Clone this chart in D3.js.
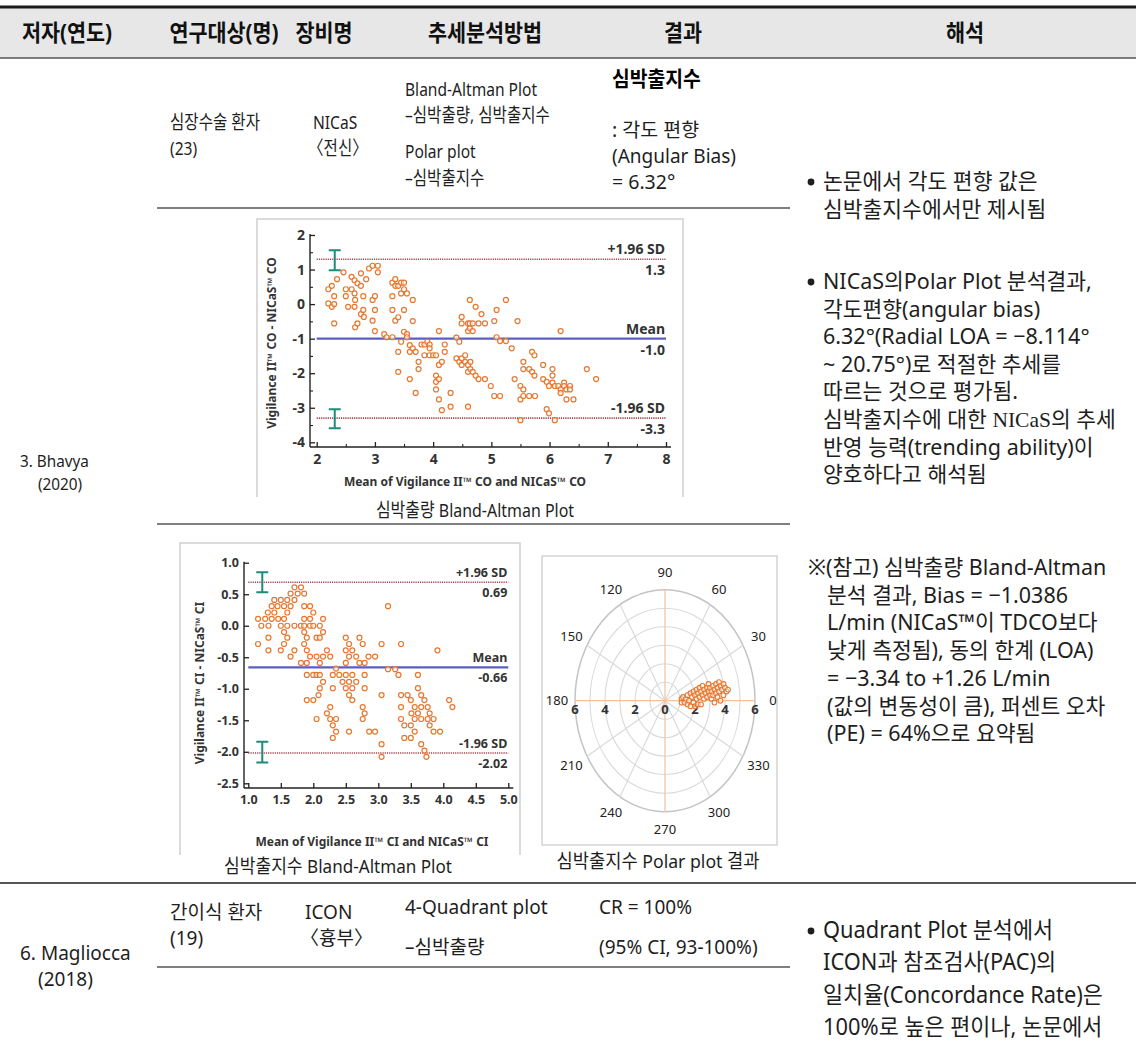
<!DOCTYPE html>
<html>
<head>
<meta charset="utf-8">
<script src="https://cdn.jsdelivr.net/npm/d3@7"></script>
<style>
  body { margin: 0; background: #fff; }
  svg text { font-family: "Noto Sans", "Noto Sans CJK KR", sans-serif; }
</style>
</head>
<body>
<svg id="page" width="1136" height="1041"></svg>
<script>
// ---- table text ----
var headers = ['저자(연도)', '연구대상(명)', '장비명', '추세분석방법', '결과', '해석']
var headerX = [67, 224, 324, 485, 683, 965]

var notesAngle = ['논문에서 각도 편향 값은', '심박출지수에서만 제시됨']
var notesPolar = ['NICaS의Polar Plot 분석결과,', '각도편향(angular bias)', '6.32°(Radial LOA = −8.114°',
  '~ 20.75°)로 적절한 추세를', '따르는 것으로 평가됨.', '심박출지수에 대한 NICaS의 추세',
  '반영 능력(trending ability)이', '양호하다고 해석됨']
var notesRef = ['※(참고) 심박출량 Bland-Altman', '분석 결과, Bias = −1.0386', 'L/min (NICaS™이 TDCO보다',
  '낮게 측정됨), 동의 한계 (LOA)', '= −3.34 to +1.26 L/min', '(값의 변동성이 큼), 퍼센트 오차',
  '(PE) = 64%으로 요약됨']
var notesQuad = ['Quadrant Plot 분석에서', 'ICON과 참조검사(PAC)의', '일치율(Concordance Rate)은', '100%로 높은 편이나, 논문에서']

// ---- cardiac output Bland-Altman (mean, difference) ----
var coPoints = [
  [2.2, 0.43], [2.26, 0.53], [2.2, 0.02], [2.26, -0.08], [2.3, 0], [2.3, 0.23], [2.3, -0.56], [2.35, 0.72],
  [2.46, 0.92], [2.5, 0.43], [2.5, 0.23], [2.54, -0.08], [2.6, 0.79], [2.6, 0.43], [2.65, -0.08], [2.65, 0.69],
  [2.65, 0.31], [2.66, 0.12], [2.66, -0.67], [2.7, -0.56], [2.7, 0.6], [2.76, 0.53], [2.76, 0.89], [2.76, -0.29],
  [2.8, 0.23], [2.8, -0.17], [2.81, -0.37], [2.85, 0.72], [2.9, 1.03], [2.96, 1.11], [2.96, 0.12], [2.96, -0.48],
  [3.0, 0.23], [3.0, -0.17], [3.0, -0.78], [3.05, 1.11], [3.05, 0.92], [3.16, -0.87], [3.2, -0.96], [3.3, -0.96],
  [3.3, 0.62], [3.35, 0.72], [3.35, 0.53], [3.3, 0.23], [3.3, -0.17], [3.35, -0.48], [3.4, 0.53], [3.4, -0.38],
  [3.4, -1.38], [3.4, -1.96], [3.45, 0.62], [3.45, 0.31], [3.45, -1.09], [3.5, 0.62], [3.5, 0.43], [3.5, -0.17],
  [3.5, -0.8], [3.55, 0.31], [3.55, -0.87], [3.55, -0.96], [3.6, -1.19], [3.6, -1.38], [3.6, -2.17], [3.65, 0.12],
  [3.65, -0.49], [3.65, -1.28], [3.7, -1.38], [3.7, -2.57], [3.75, -1.67], [3.75, -1.88], [3.8, -1.17], [3.85, -1.17],
  [3.85, -1.48], [3.9, -1.09], [3.94, -1.17], [3.94, -1.28], [3.94, -1.48], [4.0, -1.48], [4.05, -1.48], [4.05, -2.07],
  [4.05, -2.25], [4.05, -2.47], [4.1, -2.17], [4.1, -1.76], [4.1, -2.76], [4.1, -0.78], [4.15, -1.67], [4.15, -3.07],
  [4.2, -1.17], [4.2, -1.38], [4.3, -2.57], [4.3, -2.97], [4.4, -0.97], [4.4, -1.57], [4.45, -1.09], [4.45, -1.67],
  [4.49, -0.37], [4.49, -0.56], [4.49, -1.57], [4.49, -1.76], [4.55, -1.48], [4.55, -1.67], [4.6, -0.56], [4.6, -0.78],
  [4.6, -1.76], [4.6, -1.96], [4.6, -2.97], [4.63, 0.12], [4.63, -0.56], [4.63, -0.7], [4.64, -1.67], [4.64, -1.88],
  [4.68, -0.56], [4.68, -0.78], [4.68, -1.96], [4.73, -0.08], [4.73, -2.07], [4.78, -0.56], [4.78, -2.17], [4.83, -0.29],
  [4.89, -0.56], [4.89, -2.17], [4.99, -2.37], [5.05, -0.49], [5.05, -2.66], [5.09, -0.17], [5.09, -0.96], [5.15, -1.07],
  [5.15, -2.66], [5.25, 0.12], [5.25, -1.07], [5.35, -1.28], [5.4, -2.17], [5.45, -0.49], [5.5, -2.37], [5.5, -2.76],
  [5.5, -3.36], [5.55, -1.67], [5.55, -1.88], [5.55, -2.47], [5.55, -2.66], [5.65, -1.88], [5.65, -2.66], [5.7, -1.38],
  [5.7, -1.96], [5.74, -1.48], [5.74, -2.07], [5.75, -2.66], [5.89, -1.76], [5.89, -2.17], [5.95, -2.25], [5.95, -3.04],
  [5.99, -3.16], [5.99, -2.37], [6.05, -1.88], [6.05, -2.07], [6.05, -2.27], [6.09, -2.37], [6.09, -3.36], [6.15, -2.37],
  [6.19, -0.78], [6.19, -2.47], [6.19, -2.57], [6.25, -2.27], [6.25, -2.37], [6.29, -2.47], [6.29, -2.76], [6.35, -2.37],
  [6.35, -2.47], [6.41, -2.76], [6.64, -1.88], [6.8, -2.17]
]
var coLimits = [1.3, -1.0, -3.3]
var coLimitNames = ['+1.96 SD', 'Mean', '-1.96 SD']
var coLimitText = ['1.3', '-1.0', '-3.3']
var coBars = [[2.31, 1.56, 0.98], [2.31, -3.04, -3.59]]
var coXTicks = [2, 3, 4, 5, 6, 7, 8]
var coYTicks = [2, 1, 0, -1, -2, -3, -4]

// ---- cardiac index Bland-Altman ----
var ciPoints = [
  [1.15, 0.11], [1.15, -0.29], [1.2, 0], [1.26, 0.11], [1.3, 0.21], [1.31, 0], [1.31, -0.19], [1.31, -0.39],
  [1.36, 0.31], [1.36, 0.11], [1.4, 0.41], [1.4, 0.21], [1.45, 0.31], [1.46, 0.11], [1.5, 0.41], [1.5, 0],
  [1.5, -0.39], [1.55, 0.31], [1.55, 0.11], [1.55, -0.1], [1.55, -0.29], [1.6, 0.41], [1.6, 0.21], [1.6, 0],
  [1.6, -0.19], [1.65, 0.51], [1.65, 0.31], [1.65, -0.49], [1.71, 0.61], [1.71, 0.41], [1.71, 0], [1.71, -0.39],
  [1.76, 0.51], [1.81, 0.61], [1.81, 0], [1.81, -0.59], [1.86, 0.51], [1.86, 0.31], [1.86, 0.11], [1.86, 0],
  [1.86, -0.1], [1.86, -0.29], [1.9, -0.19], [1.9, -0.39], [1.9, -0.59], [1.9, -0.78], [1.9, -1.18], [1.95, 0.31],
  [1.95, 0.11], [1.95, 0], [1.95, -0.49], [2.0, 0.21], [2.0, 0], [2.0, -0.78], [2.0, -1.18], [2.05, -0.19],
  [2.05, -0.49], [2.05, -0.78], [2.05, -1.48], [2.08, -1.1], [2.1, 0], [2.1, -0.19], [2.1, -0.59], [2.1, -0.78],
  [2.1, -0.99], [2.15, 0.11], [2.15, -0.1], [2.15, -0.49], [2.15, -0.89], [2.21, -0.39], [2.21, -1.39], [2.26, -0.49],
  [2.26, -1.29], [2.26, -1.48], [2.3, -0.78], [2.3, -0.99], [2.3, -1.58], [2.3, -1.78], [2.35, -0.68], [2.35, -1.48],
  [2.35, -1.68], [2.4, -0.78], [2.45, -0.89], [2.5, -0.19], [2.5, -0.39], [2.5, -0.59], [2.5, -0.78], [2.5, -0.99],
  [2.55, -0.29], [2.55, -0.49], [2.55, -0.89], [2.55, -1.1], [2.55, -1.68], [2.6, -0.39], [2.6, -0.78], [2.6, -0.99],
  [2.6, -1.18], [2.66, -0.49], [2.66, -0.89], [2.71, -0.19], [2.71, -0.59], [2.76, -0.29], [2.76, -1.29], [2.76, -1.48],
  [2.79, -0.59], [2.79, -0.78], [2.79, -0.99], [2.79, -1.39], [2.85, -0.49], [2.86, -1.68], [2.95, -0.49], [2.95, -1.68],
  [3.05, -0.29], [3.05, -1.1], [3.05, -1.88], [3.05, -2.08], [3.15, 0.31], [3.15, -0.69], [3.26, -0.69], [3.31, -0.78],
  [3.35, -0.29], [3.35, -1.1], [3.35, -1.29], [3.35, -1.48], [3.4, -1.58], [3.4, -1.78], [3.45, -1.1], [3.5, -1.18],
  [3.5, -1.58], [3.5, -1.78], [3.51, -1.39], [3.56, -1.29], [3.56, -1.48], [3.56, -1.68], [3.61, -0.78], [3.61, -0.99],
  [3.61, -1.39], [3.66, -1.1], [3.66, -1.29], [3.66, -1.48], [3.66, -1.88], [3.71, -1.18], [3.71, -1.98], [3.74, -2.08],
  [3.76, -1.29], [3.76, -1.48], [3.79, -1.39], [3.79, -1.58], [3.85, -1.48], [3.85, -1.68], [3.95, -1.68], [3.91, -0.39],
  [4.09, -1.18], [4.14, -1.29]
]
var ciLimits = [0.69, -0.66, -2.02]
var ciLimitNames = ['+1.96 SD', 'Mean', '-1.96 SD']
var ciLimitText = ['0.69', '-0.66', '-2.02']
var ciBars = [[1.215, 0.85, 0.53], [1.215, -1.84, -2.17]]
var ciXTicks = [1.0, 1.5, 2.0, 2.5, 3.0, 3.5, 4.0, 4.5, 5.0]
var ciYTicks = [1.0, 0.5, 0.0, -0.5, -1.0, -1.5, -2.0, -2.5]

// ---- polar plot (x = ΔCI along 0°, y = ΔCI along 90°) ----
var polarX = [1.1, 1.1, 1.2, 1.3, 1.4, 1.5, 1.5, 1.6, 1.7, 1.7, 1.8, 1.9, 1.9, 2.0, 2.0, 2.1, 2.1, 2.2, 2.2, 2.3,
  2.3, 2.4, 2.5, 2.5, 2.6, 2.6, 2.7, 2.8, 2.8, 2.9, 2.9, 3.0, 3.0, 3.1, 3.1, 3.2, 3.2, 3.3, 3.4, 3.4, 3.5, 3.5,
  3.6, 3.6, 3.7, 3.7, 3.8, 3.9, 3.9, 4.0, 4.1, 4.2, 3.3, 2.4]
var polarY = [0.1, -0.1, 0.2, -0.1, 0.1, 0.3, -0.2, 0.0, 0.4, -0.3, 0.2, 0.5, -0.1, 0.3, -0.3, 0.6, 0.1, 0.4, -0.2, 0.7,
  0.2, 0.5, 0.3, 0.8, 0.1, 0.6, 0.4, 0.7, 0.2, 0.9, 0.5, 0.3, 0.7, 0.1, 0.5, 0.8, 0.3, 0.6, 0.9, 0.4, 0.7, 0.2,
  1.0, 0.5, 0.8, 0.0, 0.6, 0.9, 0.3, 0.7, 0.5, 0.6, -0.1, -0.2]
var polarRings = [1, 2, 3, 4, 5, 6]
var polarAngles = [0, 30, 60, 90, 120, 150, 180, 210, 240, 270, 300, 330]
var polarTicks = [-6, -4, -2, 0, 2, 4, 6]

var svg = d3.select('#page')
var ORANGE = '#e8772e'

function rule(x1, x2, y, color, w) {
  svg.append('line').attr('x1', x1).attr('x2', x2).attr('y1', y).attr('y2', y)
    .attr('stroke', color).attr('stroke-width', w)
}

// text with optional horizontal squeeze (the source uses a condensed face)
function txt(x, y, s, o) {
  o = o || {}
  var g = svg.append('g').attr('transform', 'translate(' + x + ',' + y + ') scale(' + (o.sx || 1) + ',1)')
  return g.append('text').text(s)
    .attr('font-size', o.size || 19)
    .attr('font-weight', o.bold ? 700 : 400)
    .attr('text-anchor', o.anchor || 'start')
    .attr('fill', o.fill || '#1e1e1e')
}
var cond = { size: 19, sx: 0.82 }
var cond2 = { size: 19, sx: 1.0 }

// ---- table frame ----
svg.append('rect').attr('x', 0).attr('y', 8).attr('width', 1136).attr('height', 50).attr('fill', '#e7e7e7')
rule(0, 1136, 7, '#1a1a1a', 3)
rule(0, 1136, 58, '#555', 1.6)
rule(157, 790, 208, '#555', 1.3)
rule(157, 790, 524, '#555', 1.3)
rule(0, 1136, 883, '#555', 2)
rule(157, 790, 967, '#555', 1.3)

headers.forEach(function(h, i) {
  txt(headerX[i], 41, h, { size: 23, bold: true, sx: 0.9, anchor: 'middle', fill: '#111' })
})

// ---- row: Bhavya ----
txt(20, 467, '3. Bhavya', { size: 17, sx: 0.9 })
txt(38, 490, '(2020)', { size: 17, sx: 0.9 })
txt(170, 129, '심장수술 환자', cond)
txt(170, 155, '(23)', cond)
txt(313, 129, 'NICaS', cond)
txt(308, 155, '〈전신〉', cond)
txt(405, 96, 'Bland-Altman Plot', cond)
txt(405, 122, '–심박출량, 심박출지수', cond)
txt(405, 158, 'Polar plot', cond)
txt(405, 185, '–심박출지수', cond)
txt(612, 86, '심박출지수', { size: 21, bold: true, sx: 0.92, fill: '#000' })
txt(612, 137, ': 각도 편향', { size: 19.5 })
txt(612, 163, '(Angular Bias)', { size: 19 })
txt(612, 189, '= 6.32°', { size: 19.5 })

function bullet(cx, cy) {
  svg.append('circle').attr('cx', cx).attr('cy', cy).attr('r', 3.4).attr('fill', '#1e1e1e')
}
var noteOpt = { size: 21.5 }
bullet(811, 182)
notesAngle.forEach(function(s, i) { txt(823, 189 + i * 28, s, noteOpt) })
bullet(811, 282)
notesPolar.forEach(function(s, i) {
  var t = txt(823, 289 + i * 27.6, i === 5 ? null : s, noteOpt)
  if (i === 5) {
    t.append('tspan').text('심박출지수에 대한 ')
    t.append('tspan').text('NICaS').attr('font-family', 'Liberation Serif, serif')
    t.append('tspan').text('의 추세')
  }
})
notesRef.forEach(function(s, i) { txt(i === 0 ? 808 : 827, 575 + i * 27.7, s, noteOpt) })

// ---- Bland-Altman plots ----
function blandAltman(c) {
  var x = d3.scaleLinear().domain(c.xDomain).range(c.xRange)
  var y = d3.scaleLinear().domain(c.yDomain).range(c.yRange)
  var g = svg.append('g')

  g.append('path')
    .attr('d', 'M' + c.frame[0] + ',' + c.frame[3] + 'V' + c.frame[1] + 'H' + c.frame[2] + 'V' + c.frame[3])
    .attr('fill', 'none').attr('stroke', '#cfcfcf').attr('stroke-width', 1.5)

  // axis lines
  g.append('line').attr('x1', c.axisX).attr('x2', c.axisX)
    .attr('y1', y(c.yDomain[1]) - 1).attr('y2', c.axisY).attr('stroke', '#222').attr('stroke-width', 1.4)
  g.append('line').attr('x1', c.axisX).attr('x2', x(c.xDomain[1]) + 5)
    .attr('y1', c.axisY).attr('y2', c.axisY).attr('stroke', '#222').attr('stroke-width', 1.4)

  var yAxis = g.append('g').attr('transform', 'translate(' + c.axisX + ',0)')
    .call(d3.axisLeft(y).tickValues(c.yTicks).tickFormat(c.fmt).tickSizeInner(-5).tickSizeOuter(0).tickPadding(5))
  var xAxis = g.append('g').attr('transform', 'translate(0,' + c.axisY + ')')
    .call(d3.axisBottom(x).tickValues(c.xTicks).tickFormat(c.fmt).tickSizeInner(-5).tickSizeOuter(0).tickPadding(7))
  ;[yAxis, xAxis].forEach(function(a) {
    a.select('.domain').remove()
    a.selectAll('line').attr('stroke', '#222').attr('stroke-width', 1.3)
    a.selectAll('text').attr('font-family', 'Liberation Sans, Arial, sans-serif')
      .attr('font-size', c.tickSize).attr('font-weight', 700).attr('fill', '#333')
  })
  if (c.minor) {
    var my = g.append('g').attr('transform', 'translate(' + c.axisX + ',0)')
      .call(d3.axisLeft(y).tickValues(c.minorY).tickFormat('').tickSizeInner(-3).tickSizeOuter(0))
    var mx = g.append('g').attr('transform', 'translate(0,' + c.axisY + ')')
      .call(d3.axisBottom(x).tickValues(c.minorX).tickFormat('').tickSizeInner(-3).tickSizeOuter(0))
    ;[my, mx].forEach(function(a) {
      a.select('.domain').remove()
      a.selectAll('line').attr('stroke', '#222').attr('stroke-width', 1.1)
    })
  }

  // limit lines
  c.limits.forEach(function(v, i) {
    g.append('line').attr('x1', x(c.xDomain[0])).attr('x2', x(c.xDomain[1]))
      .attr('y1', y(v)).attr('y2', y(v))
      .attr('stroke', i === 1 ? '#5a5ec2' : '#a3444c')
      .attr('stroke-width', i === 1 ? 2.2 : 1.6)
      .attr('stroke-dasharray', i === 1 ? null : '1.2,1')
    g.append('text').text(c.names[i]).attr('x', x(c.xDomain[1]) - 1).attr('y', y(v) - 5)
      .attr('text-anchor', 'end').attr('font-family', 'Liberation Sans, Arial, sans-serif')
      .attr('font-size', c.tickSize).attr('font-weight', 700).attr('fill', '#333')
    g.append('text').text(c.values[i]).attr('x', x(c.xDomain[1]) - 1).attr('y', y(v) + c.tickSize + 2)
      .attr('text-anchor', 'end').attr('font-family', 'Liberation Sans, Arial, sans-serif')
      .attr('font-size', c.tickSize).attr('font-weight', 700).attr('fill', '#333')
  })

  // confidence bars on the limits
  c.bars.forEach(function(b) {
    var bx = x(b[0])
    g.append('path')
      .attr('d', 'M' + (bx - 6) + ',' + y(b[1]) + 'H' + (bx + 6) + 'M' + bx + ',' + y(b[1]) + 'V' + y(b[2]) +
        'M' + (bx - 6) + ',' + y(b[2]) + 'H' + (bx + 6))
      .attr('fill', 'none').attr('stroke', '#1e8c7a').attr('stroke-width', 2)
  })

  g.selectAll('circle.pt').data(c.points).enter().append('circle').attr('class', 'pt')
    .attr('cx', function(d) { return x(d[0]) })
    .attr('cy', function(d) { return y(d[1]) })
    .attr('r', 2.5)
    .attr('fill', '#fff').attr('fill-opacity', 0.6)
    .attr('stroke', ORANGE).attr('stroke-width', 1.2)

  // axis titles
  g.append('text').text(c.xTitle).attr('x', c.xTitlePos[0]).attr('y', c.xTitlePos[1])
    .attr('text-anchor', 'middle').attr('font-family', 'Liberation Serif, Times New Roman, serif')
    .attr('font-size', 12).attr('font-weight', 700).attr('fill', '#333')
  g.append('text').text(c.yTitle)
    .attr('transform', 'translate(' + c.yTitlePos[0] + ',' + c.yTitlePos[1] + ') rotate(-90)')
    .attr('text-anchor', 'middle').attr('font-family', 'Liberation Serif, Times New Roman, serif')
    .attr('font-size', 12).attr('font-weight', 700).attr('fill', '#333')
}

blandAltman({
  xDomain: [2, 8], xRange: [316.7, 666],
  yDomain: [-4, 2], yRange: [442.3, 235],
  axisX: 310, axisY: 447,
  frame: [257, 219, 683, 497],
  xTicks: coXTicks, yTicks: coYTicks, fmt: function(d) { return String(d) },
  minor: true, minorX: [2.5, 3.5, 4.5, 5.5, 6.5, 7.5], minorY: [1.5, 0.5, -0.5, -1.5, -2.5, -3.5],
  tickSize: 14,
  limits: coLimits, names: coLimitNames, values: coLimitText, bars: coBars, points: coPoints,
  xTitle: 'Mean of Vigilance II™ CO and NICaS™ CO', xTitlePos: [465, 486],
  yTitle: 'Vigilance II™ CO - NICaS™ CO', yTitlePos: [276, 343]
})
txt(475, 517, '심박출량 Bland-Altman Plot', { size: 19, sx: 0.84, anchor: 'middle' })

blandAltman({
  xDomain: [1, 5], xRange: [248.3, 508.3],
  yDomain: [-2.5, 1.0], yRange: [783.3, 562.7],
  axisX: 244, axisY: 788,
  frame: [180, 543, 520, 855],
  xTicks: ciXTicks, yTicks: ciYTicks, fmt: function(d) { return d.toFixed(1) },
  minor: false,
  tickSize: 12.5,
  limits: ciLimits, names: ciLimitNames, values: ciLimitText, bars: ciBars, points: ciPoints,
  xTitle: 'Mean of Vigilance II™ CI and NICaS™ CI', xTitlePos: [372, 846],
  yTitle: 'Vigilance II™ CI - NICaS™ CI', yTitlePos: [204, 683]
})
txt(338, 873, '심박출지수 Bland-Altman Plot', { size: 19, sx: 0.9, anchor: 'middle' })

// ---- polar plot ----
;(function() {
  var px = d3.scaleLinear().domain([-6, 6]).range([575, 755])
  var py = d3.scaleLinear().domain([-6, 6]).range([811.7, 589.7])
  var g = svg.append('g')
  g.append('rect').attr('x', 542).attr('y', 556).attr('width', 235).attr('height', 289)
    .attr('fill', 'none').attr('stroke', '#d4d4d4').attr('stroke-width', 1.5)

  g.selectAll('ellipse').data(polarRings).enter().append('ellipse')
    .attr('cx', px(0)).attr('cy', py(0))
    .attr('rx', function(r) { return px(r) - px(0) })
    .attr('ry', function(r) { return py(0) - py(r) })
    .attr('fill', 'none')
    .attr('stroke', function(r) { return r === 6 ? '#c4c4c4' : '#d9d9d9' })
    .attr('stroke-width', function(r) { return r === 6 ? 1.5 : 1.1 })

  g.selectAll('line.spoke').data(polarAngles.filter(function(a) { return a % 90 !== 0 })).enter()
    .append('line').attr('class', 'spoke')
    .attr('x1', px(0)).attr('y1', py(0))
    .attr('x2', function(a) { return px(6 * Math.cos(a * Math.PI / 180)) })
    .attr('y2', function(a) { return py(6 * Math.sin(a * Math.PI / 180)) })
    .attr('stroke', '#d9d9d9').attr('stroke-width', 1.1)

  g.append('line').attr('x1', px(-6)).attr('x2', px(6)).attr('y1', py(0)).attr('y2', py(0))
    .attr('stroke', '#f3c29c').attr('stroke-width', 1.2)
  g.append('line').attr('x1', px(0)).attr('x2', px(0)).attr('y1', py(6)).attr('y2', py(-6))
    .attr('stroke', '#f3c29c').attr('stroke-width', 1.2)

  g.selectAll('text.ang').data(polarAngles).enter().append('text').attr('class', 'ang')
    .text(function(a) { return a })
    .attr('x', function(a) { return px(7.2 * Math.cos(a * Math.PI / 180)) })
    .attr('y', function(a) { return py(6.95 * Math.sin(a * Math.PI / 180)) })
    .attr('dy', '0.35em')
    .attr('text-anchor', 'middle').attr('font-family', 'Liberation Sans, Arial, sans-serif')
    .attr('font-size', 13).attr('fill', '#222')

  g.selectAll('text.rad').data(polarTicks).enter().append('text').attr('class', 'rad')
    .text(function(v) { return Math.abs(v) })
    .attr('x', function(v) { return px(v) })
    .attr('y', py(0) + 13)
    .attr('text-anchor', 'middle').attr('font-family', 'Liberation Sans, Arial, sans-serif')
    .attr('font-size', 13).attr('font-weight', 700).attr('fill', '#333')

  g.selectAll('circle.pt').data(polarX).enter().append('circle').attr('class', 'pt')
    .attr('cx', function(d) { return px(d) })
    .attr('cy', function(d, i) { return py(polarY[i]) })
    .attr('r', 2.4)
    .attr('fill', '#fff').attr('fill-opacity', 0.5)
    .attr('stroke', ORANGE).attr('stroke-width', 1.1)
})()
txt(658, 868, '심박출지수 Polar plot 결과', { size: 19, sx: 0.93, anchor: 'middle' })

// ---- row: Magliocca ----
txt(20, 960, '6. Magliocca', cond2)
txt(38, 986, '(2018)', cond2)
txt(170, 919, '간이식 환자', cond2)
txt(170, 945, '(19)', cond2)
txt(305, 919, 'ICON', cond2)
txt(300, 945, '〈흉부〉', cond2)
txt(405, 914, '4-Quadrant plot', cond2)
txt(405, 954, '–심박출량', cond2)
txt(599, 914, 'CR = 100%', cond2)
txt(599, 954, '(95% CI, 93-100%)', cond2)
bullet(811, 931)
notesQuad.forEach(function(s, i) { txt(823, 938 + i * 32.4, s, { size: 23, sx: 0.95 }) })
</script>
</body>
</html>
